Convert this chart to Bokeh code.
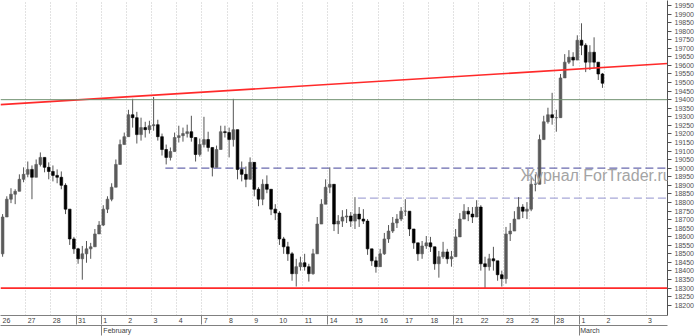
import numpy as np
from bokeh.plotting import figure
from bokeh.models import (Range1d, LinearAxis, FixedTicker, Span, Label, Grid,
                          ColumnDataSource, BasicTickFormatter)
from bokeh.embed import file_html
from bokeh.resources import INLINE

# ---------------- data ----------------
day_labels = ['26', '27', '28', '31', '1', '2', '3', '4', '7', '8', '9', '10', '11',
              '14', '15', '16', '17', '18', '21', '22', '23', '25', '28', '1', '2', '3']
day_x = [0, 1, 2, 3, 4, 5, 6, 7, 8, 9, 10, 11, 12, 13, 14, 15, 16, 17, 18, 19, 20,
         21, 22, 23, 24, 25.65]
week_start_days = [3, 4, 8, 13, 18, 22, 23]
month_names = ['February', 'March']
month_start_days = [4, 23]

bars_per_day = 6
first_open = 18500
highs = [
    18732, 18836, 18883, 18877, 18964, 19005, 19039, 19016, 19051, 19092,
    19063, 19034, 19016, 18993, 18981, 18912, 18749, 18599, 18535, 18546,
    18575, 18564, 18645, 18691, 18784, 18836, 18912, 19051, 19167, 19208,
    19341, 19405, 19329, 19295, 19271, 19277, 19416, 19283, 19202, 19138,
    19121, 19208, 19248, 19237, 19254, 19306, 19173, 19173, 19300, 19213,
    19115, 19132, 19248, 19248, 19237, 19405, 19167, 19039, 19010, 19063,
    19022, 18889, 18935, 18958, 18842, 18790, 18749, 18599, 18570, 18511,
    18471, 18483, 18500, 18442, 18529, 18715, 18819, 18935, 19005, 18877,
    18726, 18755, 18761, 18744, 18831, 18773, 18761, 18703, 18529, 18483,
    18529, 18622, 18668, 18715, 18732, 18773, 18819, 18744, 18645, 18558,
    18575, 18604, 18599, 18529, 18517, 18570, 18529, 18517, 18645, 18738,
    18790, 18773, 18773, 18813, 18784, 18483, 18500, 18541, 18442, 18402,
    18657, 18680, 18749, 18831, 18790, 18802, 18947, 18964, 19196, 19306,
    19353, 19440, 19341, 19550, 19666, 19689, 19677, 19776, 19846, 19730,
    19718, 19764, 19608, 19556]
lows = [
    18483, 18732, 18796, 18790, 18865, 18918, 18947, 18819, 18947, 19010,
    18976, 18935, 18923, 18912, 18877, 18732, 18552, 18500, 18442, 18349,
    18448, 18471, 18541, 18616, 18662, 18738, 18807, 18889, 19022, 19150,
    19202, 19237, 19144, 19161, 19179, 19202, 19219, 19161, 19074, 19022,
    19045, 19097, 19150, 19155, 19179, 19155, 19039, 19068, 19121, 19097,
    18952, 19005, 19121, 19179, 19063, 19126, 18935, 18923, 18889, 18947,
    18836, 18778, 18784, 18854, 18726, 18697, 18552, 18500, 18459, 18343,
    18309, 18402, 18402, 18338, 18378, 18529, 18691, 18790, 18854, 18633,
    18616, 18657, 18680, 18657, 18645, 18657, 18674, 18494, 18430, 18390,
    18425, 18494, 18564, 18622, 18651, 18691, 18721, 18604, 18529, 18459,
    18471, 18529, 18511, 18407, 18361, 18471, 18442, 18425, 18494, 18610,
    18703, 18691, 18680, 18715, 18402, 18297, 18402, 18402, 18343, 18309,
    18326, 18575, 18633, 18738, 18709, 18703, 18749, 18865, 18918, 19190,
    19260, 19254, 19213, 19329, 19527, 19608, 19596, 19631, 19660, 19561,
    19573, 19585, 19515, 19469]
closes = [
    18715, 18819, 18848, 18865, 18935, 18964, 18993, 18947, 19022, 19063,
    19005, 18981, 18958, 18947, 18900, 18761, 18587, 18529, 18471, 18500,
    18529, 18541, 18616, 18668, 18761, 18819, 18889, 19022, 19138, 19184,
    19312, 19295, 19196, 19237, 19225, 19248, 19254, 19184, 19109, 19063,
    19097, 19179, 19190, 19202, 19213, 19179, 19080, 19138, 19167, 19121,
    19005, 19109, 19213, 19208, 19167, 19225, 18993, 18964, 18935, 19034,
    18877, 18819, 18906, 18877, 18761, 18738, 18587, 18541, 18500, 18384,
    18425, 18448, 18425, 18384, 18500, 18674, 18790, 18889, 18906, 18674,
    18691, 18715, 18721, 18691, 18732, 18703, 18691, 18529, 18459, 18425,
    18500, 18587, 18633, 18680, 18703, 18749, 18749, 18645, 18564, 18500,
    18546, 18564, 18541, 18442, 18483, 18511, 18471, 18483, 18599, 18703,
    18749, 18732, 18715, 18773, 18442, 18425, 18471, 18459, 18378, 18355,
    18616, 18633, 18703, 18773, 18749, 18761, 18906, 18906, 19167, 19271,
    19312, 19295, 19295, 19527, 19619, 19648, 19631, 19747, 19718, 19619,
    19677, 19619, 19550, 19496]

y_ticks = list(range(18200, 20000, 50))

# levels / drawn lines
trend_x = [0, 26.5]
trend_y = [19371, 19611]
red_level = 18300
resist_level = 19400
dash_levels = [19000, 18825]
dash_start_days = [6.55, 14.2]
dash_colors = ['#6a6aae', '#a8a8d8']

# ---------------- figure ----------------
X0, X1 = 0, 26.5
Y0, Y1 = 18140, 19979
p = figure(width=698, height=336, output_backend="svg", toolbar_location=None,
           x_range=Range1d(X0, X1), y_range=Range1d(Y0, Y1),
           x_axis_location=None, y_axis_location=None,
           min_border_left=0, min_border_top=0, min_border_right=31,
           min_border_bottom=19, outline_line_color=None,
           background_fill_color="white", border_fill_color="white")
p.xgrid.visible = False
p.ygrid.visible = False

p.add_layout(Grid(dimension=0, ticker=FixedTicker(ticks=day_x),
                  grid_line_color="#c4c4c4", grid_line_dash="1 2",
                  grid_line_width=1))

# horizontal levels
p.add_layout(Span(location=resist_level, dimension="width",
                  line_color="#6f8f6f", line_width=1))
p.add_layout(Span(location=red_level, dimension="width",
                  line_color="#ff2a2a", line_width=1.6))
for lvl, xs, col in zip(dash_levels, dash_start_days, dash_colors):
    p.line([xs, X1], [lvl, lvl], line_color=col, line_width=1.2,
           line_dash="8 4")

# watermark (behind bars)
p.add_layout(Label(x=20.66, y=18958, text="Журнал ForTrader.ru",
                   text_font="Liberation Sans", text_font_size="16px",
                   text_color="#a4a4a4", text_baseline="alphabetic"))

# bars
n = len(closes)
bar_x = (np.arange(n) + 0.5) / bars_per_day
opens = np.array([first_open] + closes[:-1], dtype=float)
cl = np.array(closes, dtype=float)
hi = np.maximum(np.array(highs, dtype=float), np.maximum(opens, cl))
lo = np.minimum(np.array(lows, dtype=float), np.minimum(opens, cl))
src = ColumnDataSource(dict(
    x=bar_x, hi=hi, lo=lo,
    top=np.maximum(opens, cl), bottom=np.minimum(opens, cl),
    color=np.where(cl < opens, "#000000", "#5a5a5a")))
p.segment(x0="x", x1="x", y0="lo", y1="hi", source=src, line_color="#555555",
          line_width=1)
p.vbar(x="x", width=0.65 / bars_per_day, top="top", bottom="bottom",
       source=src, fill_color="color", line_color="color", line_width=0.6)

# trend line
p.line(trend_x, trend_y, line_color="#ff2a2a", line_width=1.6)

# right price axis
yax = LinearAxis(ticker=FixedTicker(ticks=y_ticks),
                 formatter=BasicTickFormatter(use_scientific=False))
yax.axis_line_color = "#505050"
yax.major_tick_line_color = "#505050"
yax.major_tick_in = 0
yax.major_tick_out = 4
yax.minor_tick_line_color = None
yax.major_label_standoff = 3
yax.major_label_text_font = "Liberation Sans"
yax.major_label_text_font_size = "7px"
yax.major_label_text_color = "#505050"
p.add_layout(yax, "right")

# current price label
p.add_layout(Label(x=X1, y=closes[-1], x_offset=3, text=f"{closes[-1]:.1f}",
                   text_baseline="middle", text_font="Liberation Sans",
                   text_font_size="7px", text_color="#22ff22",
                   background_fill_color="#000000",
                   border_line_color="#11aa11", padding=1))
# period marker
p.add_layout(Label(x=X1, y=Y0, x_offset=2, y_offset=1, text="M",
                   text_font="Liberation Sans", text_font_size="6px",
                   text_color="#404040", border_line_color="#606060",
                   background_fill_color="#f0f0f0", padding=1))

# bottom date axis
px_per_day = 667 / (X1 - X0)
lab_pos = [round(d + (2 + 1.95 * len(s)) / px_per_day, 4)
           for d, s in zip(day_x, day_labels)]
xax = LinearAxis(ticker=FixedTicker(ticks=lab_pos, minor_ticks=week_start_days),
                 major_label_overrides={pos: s for pos, s in zip(lab_pos, day_labels)})
xax.axis_line_color = "#808080"
xax.major_tick_line_color = None
xax.major_tick_in = 0
xax.major_tick_out = 0
xax.minor_tick_in = -9
xax.minor_tick_out = 0
xax.minor_tick_line_color = "#808080"
xax.major_label_standoff = 2
xax.major_label_text_font = "Liberation Sans"
xax.major_label_text_font_size = "7px"
xax.major_label_text_color = "#404040"
p.add_layout(xax, "below")

mon_pos = [round(d + (1 + 1.9 * len(s)) / px_per_day, 4)
           for d, s in zip(month_start_days, month_names)]
max_ = LinearAxis(ticker=FixedTicker(ticks=mon_pos, minor_ticks=month_start_days),
                  major_label_overrides={pos: s for pos, s in zip(mon_pos, month_names)})
max_.axis_line_color = "#808080"
max_.major_tick_line_color = None
max_.major_tick_in = 0
max_.major_tick_out = 0
max_.minor_tick_in = -10
max_.minor_tick_out = 0
max_.minor_tick_line_color = "#808080"
max_.major_label_standoff = 1
max_.major_label_text_font = "Liberation Sans"
max_.major_label_text_font_size = "7px"
max_.major_label_text_color = "#404040"
p.add_layout(max_, "below")

open("out.html", "w").write(file_html(p, INLINE))
